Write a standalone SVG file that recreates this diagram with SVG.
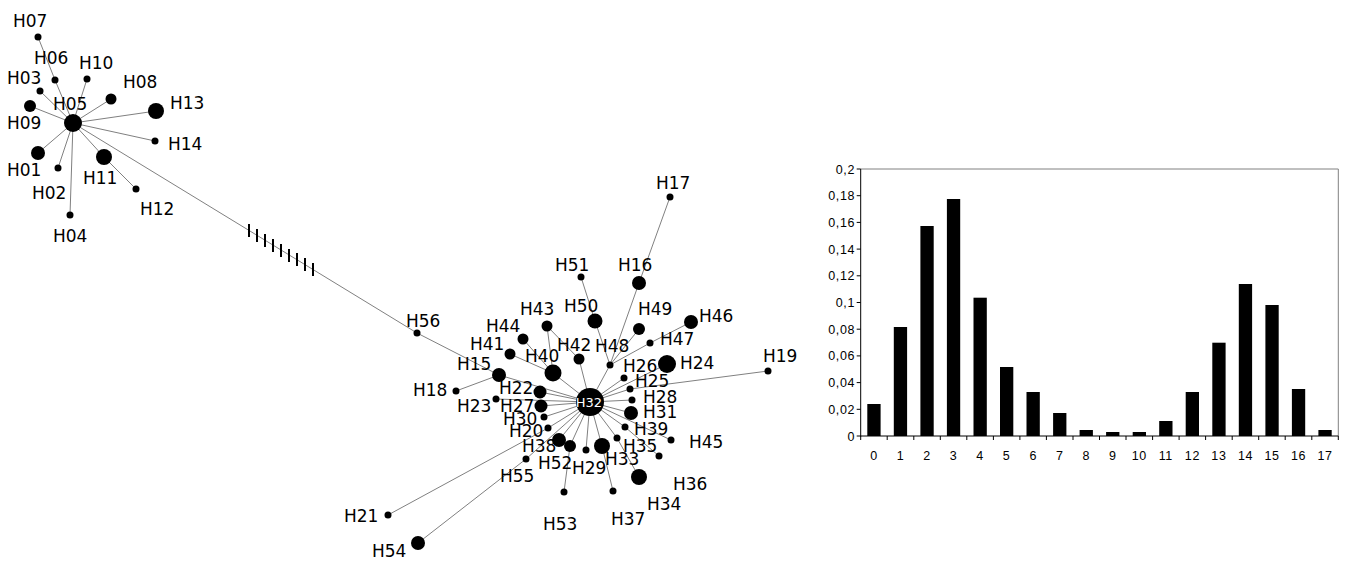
<svg xmlns="http://www.w3.org/2000/svg" width="1362" height="567" viewBox="0 0 1362 567">
<style>
.e{stroke:#808080;stroke-width:1;fill:none}
.n{fill:#000}
.l{font-family:"DejaVu Sans",Verdana,sans-serif;font-size:17px;fill:#000}
.w{font-family:"DejaVu Sans",Verdana,sans-serif;font-size:13px;fill:#fff;text-anchor:middle}
.t{stroke:#000;stroke-width:2}
.ax{stroke:#000;stroke-width:1}
.fr{stroke:#808080;stroke-width:1;fill:none}
.bar{fill:#000}
.yl{font-family:"Liberation Sans",Arial,sans-serif;font-size:12.5px;letter-spacing:0.6px;fill:#000;text-anchor:end}
.xl{font-family:"Liberation Sans",Arial,sans-serif;font-size:12.5px;letter-spacing:0.6px;fill:#000;text-anchor:middle}
</style>
<rect width="1362" height="567" fill="#fff"/>
<g id="connectors">
<line class="e" x1="73" y1="123" x2="55" y2="80"/>
<line class="e" x1="55" y1="80" x2="38" y2="37"/>
<line class="e" x1="73" y1="123" x2="87" y2="79"/>
<line class="e" x1="73" y1="123" x2="40" y2="91"/>
<line class="e" x1="73" y1="123" x2="30" y2="106"/>
<line class="e" x1="73" y1="123" x2="111" y2="99"/>
<line class="e" x1="73" y1="123" x2="156" y2="111"/>
<line class="e" x1="73" y1="123" x2="155" y2="141"/>
<line class="e" x1="73" y1="123" x2="38" y2="153"/>
<line class="e" x1="73" y1="123" x2="58" y2="168"/>
<line class="e" x1="73" y1="123" x2="104" y2="157"/>
<line class="e" x1="104" y1="157" x2="136" y2="189"/>
<line class="e" x1="73" y1="123" x2="70" y2="215"/>
<line class="e" x1="73" y1="123" x2="417" y2="333"/>
<line class="e" x1="417" y1="333" x2="499" y2="375"/>
<line class="e" x1="499" y1="375" x2="456" y2="391"/>
<line class="e" x1="499" y1="375" x2="590" y2="402"/>
<line class="e" x1="496" y1="399" x2="590" y2="402"/>
<line class="e" x1="510" y1="354" x2="553" y2="373"/>
<line class="e" x1="523" y1="339" x2="553" y2="373"/>
<line class="e" x1="547" y1="326" x2="553" y2="373"/>
<line class="e" x1="547" y1="326" x2="579" y2="359"/>
<line class="e" x1="553" y1="373" x2="590" y2="402"/>
<line class="e" x1="579" y1="359" x2="590" y2="402"/>
<line class="e" x1="581" y1="277" x2="595" y2="321"/>
<line class="e" x1="595" y1="321" x2="610" y2="365"/>
<line class="e" x1="670" y1="197" x2="639" y2="283"/>
<line class="e" x1="639" y1="283" x2="610" y2="365"/>
<line class="e" x1="639" y1="329" x2="610" y2="365"/>
<line class="e" x1="691" y1="322" x2="650" y2="343"/>
<line class="e" x1="650" y1="343" x2="610" y2="365"/>
<line class="e" x1="610" y1="365" x2="590" y2="402"/>
<line class="e" x1="667" y1="364" x2="590" y2="402"/>
<line class="e" x1="624" y1="378" x2="590" y2="402"/>
<line class="e" x1="768" y1="371" x2="630" y2="389"/>
<line class="e" x1="630" y1="389" x2="590" y2="402"/>
<line class="e" x1="632" y1="400" x2="590" y2="402"/>
<line class="e" x1="631" y1="413" x2="590" y2="402"/>
<line class="e" x1="540" y1="392" x2="590" y2="402"/>
<line class="e" x1="541" y1="406" x2="590" y2="402"/>
<line class="e" x1="544" y1="417" x2="590" y2="402"/>
<line class="e" x1="548" y1="428" x2="590" y2="402"/>
<line class="e" x1="388" y1="515" x2="548" y2="428"/>
<line class="e" x1="559" y1="440" x2="590" y2="402"/>
<line class="e" x1="570" y1="446" x2="590" y2="402"/>
<line class="e" x1="564" y1="492" x2="570" y2="446"/>
<line class="e" x1="586" y1="450" x2="590" y2="402"/>
<line class="e" x1="602" y1="446" x2="590" y2="402"/>
<line class="e" x1="613" y1="491" x2="602" y2="446"/>
<line class="e" x1="617" y1="438" x2="590" y2="402"/>
<line class="e" x1="639" y1="477" x2="617" y2="438"/>
<line class="e" x1="625" y1="427" x2="590" y2="402"/>
<line class="e" x1="659" y1="456" x2="625" y2="427"/>
<line class="e" x1="671" y1="440" x2="590" y2="402"/>
<line class="e" x1="526" y1="459" x2="590" y2="402"/>
<line class="e" x1="418" y1="543" x2="526" y2="459"/>
</g>
<g id="mutations">
<line class="t" x1="249" y1="224" x2="249" y2="237"/>
<line class="t" x1="257" y1="229" x2="257" y2="242"/>
<line class="t" x1="265" y1="234" x2="265" y2="247"/>
<line class="t" x1="273" y1="239" x2="273" y2="252"/>
<line class="t" x1="281" y1="244" x2="281" y2="257"/>
<line class="t" x1="289" y1="249" x2="289" y2="262"/>
<line class="t" x1="297" y1="253" x2="297" y2="266"/>
<line class="t" x1="305" y1="258" x2="305" y2="271"/>
<line class="t" x1="313" y1="263" x2="313" y2="276"/>
</g>
<g id="H01"><circle class="n" cx="38" cy="153" r="7"/><text class="l" x="7" y="176">H01</text></g>
<g id="H02"><circle class="n" cx="58" cy="168" r="3.5"/><text class="l" x="32" y="199">H02</text></g>
<g id="H03"><circle class="n" cx="40" cy="91" r="3.5"/><text class="l" x="7" y="84">H03</text></g>
<g id="H04"><circle class="n" cx="70" cy="215" r="3.5"/><text class="l" x="53" y="242">H04</text></g>
<g id="H05"><circle class="n" cx="73" cy="123" r="9"/><text class="l" x="53" y="110">H05</text></g>
<g id="H06"><circle class="n" cx="55" cy="80" r="3.5"/><text class="l" x="34" y="64">H06</text></g>
<g id="H07"><circle class="n" cx="38" cy="37" r="3.5"/><text class="l" x="13" y="27">H07</text></g>
<g id="H08"><circle class="n" cx="111" cy="99" r="5.5"/><text class="l" x="123" y="88">H08</text></g>
<g id="H09"><circle class="n" cx="30" cy="106" r="6"/><text class="l" x="7" y="129">H09</text></g>
<g id="H10"><circle class="n" cx="87" cy="79" r="3.5"/><text class="l" x="79" y="69">H10</text></g>
<g id="H11"><circle class="n" cx="104" cy="157" r="8"/><text class="l" x="83" y="184">H11</text></g>
<g id="H12"><circle class="n" cx="136" cy="189" r="3.5"/><text class="l" x="140" y="215">H12</text></g>
<g id="H13"><circle class="n" cx="156" cy="111" r="8"/><text class="l" x="170" y="109">H13</text></g>
<g id="H14"><circle class="n" cx="155" cy="141" r="3.5"/><text class="l" x="168" y="150">H14</text></g>
<g id="H56"><circle class="n" cx="417" cy="333" r="3.5"/><text class="l" x="406" y="327">H56</text></g>
<g id="H15"><circle class="n" cx="499" cy="375" r="7"/><text class="l" x="457" y="370">H15</text></g>
<g id="H16"><circle class="n" cx="639" cy="283" r="7"/><text class="l" x="618" y="271">H16</text></g>
<g id="H17"><circle class="n" cx="670" cy="197" r="3.5"/><text class="l" x="656" y="189">H17</text></g>
<g id="H18"><circle class="n" cx="456" cy="391" r="3.5"/><text class="l" x="413" y="396">H18</text></g>
<g id="H19"><circle class="n" cx="768" cy="371" r="3.5"/><text class="l" x="763" y="362">H19</text></g>
<g id="H20"><circle class="n" cx="548" cy="428" r="3.5"/><text class="l" x="509" y="437">H20</text></g>
<g id="H21"><circle class="n" cx="388" cy="515" r="3.5"/><text class="l" x="344" y="522">H21</text></g>
<g id="H22"><circle class="n" cx="540" cy="392" r="6.5"/><text class="l" x="499" y="394">H22</text></g>
<g id="H23"><circle class="n" cx="496" cy="399" r="3.5"/><text class="l" x="457" y="412">H23</text></g>
<g id="H24"><circle class="n" cx="667" cy="364" r="9"/><text class="l" x="680" y="369">H24</text></g>
<g id="H25"><circle class="n" cx="630" cy="389" r="3.5"/><text class="l" x="635" y="387">H25</text></g>
<g id="H26"><circle class="n" cx="624" cy="378" r="3.5"/><text class="l" x="623" y="372">H26</text></g>
<g id="H27"><circle class="n" cx="541" cy="406" r="6.5"/><text class="l" x="500" y="412">H27</text></g>
<g id="H28"><circle class="n" cx="632" cy="400" r="3.5"/><text class="l" x="643" y="403">H28</text></g>
<g id="H29"><circle class="n" cx="586" cy="450" r="3.5"/><text class="l" x="572" y="474">H29</text></g>
<g id="H30"><circle class="n" cx="544" cy="417" r="3.5"/><text class="l" x="503" y="425">H30</text></g>
<g id="H31"><circle class="n" cx="631" cy="413" r="7"/><text class="l" x="643" y="418">H31</text></g>
<g id="H33"><circle class="n" cx="602" cy="446" r="8"/><text class="l" x="605" y="465">H33</text></g>
<g id="H34"><circle class="n" cx="659" cy="456" r="3.5"/><text class="l" x="647" y="510">H34</text></g>
<g id="H35"><circle class="n" cx="617" cy="438" r="3.5"/><text class="l" x="623" y="452">H35</text></g>
<g id="H36"><circle class="n" cx="639" cy="477" r="8"/><text class="l" x="673" y="490">H36</text></g>
<g id="H37"><circle class="n" cx="613" cy="491" r="3.5"/><text class="l" x="611" y="525">H37</text></g>
<g id="H38"><circle class="n" cx="559" cy="440" r="7"/><text class="l" x="522" y="452">H38</text></g>
<g id="H39"><circle class="n" cx="625" cy="427" r="3.5"/><text class="l" x="634" y="435">H39</text></g>
<g id="H40"><circle class="n" cx="553" cy="373" r="8.5"/><text class="l" x="525" y="362">H40</text></g>
<g id="H41"><circle class="n" cx="510" cy="354" r="5.5"/><text class="l" x="470" y="350">H41</text></g>
<g id="H42"><circle class="n" cx="579" cy="359" r="5.5"/><text class="l" x="557" y="351">H42</text></g>
<g id="H43"><circle class="n" cx="547" cy="326" r="5.5"/><text class="l" x="520" y="315">H43</text></g>
<g id="H44"><circle class="n" cx="523" cy="339" r="5.5"/><text class="l" x="486" y="332">H44</text></g>
<g id="H45"><circle class="n" cx="671" cy="440" r="3.5"/><text class="l" x="689" y="448">H45</text></g>
<g id="H46"><circle class="n" cx="691" cy="322" r="7"/><text class="l" x="699" y="322">H46</text></g>
<g id="H47"><circle class="n" cx="650" cy="343" r="3.5"/><text class="l" x="660" y="345">H47</text></g>
<g id="H48"><circle class="n" cx="610" cy="365" r="3.5"/><text class="l" x="595" y="352">H48</text></g>
<g id="H49"><circle class="n" cx="639" cy="329" r="6"/><text class="l" x="638" y="315">H49</text></g>
<g id="H50"><circle class="n" cx="595" cy="321" r="7.5"/><text class="l" x="564" y="312">H50</text></g>
<g id="H51"><circle class="n" cx="581" cy="277" r="3.5"/><text class="l" x="555" y="271">H51</text></g>
<g id="H52"><circle class="n" cx="570" cy="446" r="6"/><text class="l" x="538" y="469">H52</text></g>
<g id="H53"><circle class="n" cx="564" cy="492" r="3.5"/><text class="l" x="543" y="530">H53</text></g>
<g id="H54"><circle class="n" cx="418" cy="543" r="7"/><text class="l" x="372" y="557">H54</text></g>
<g id="H55"><circle class="n" cx="526" cy="459" r="3.5"/><text class="l" x="500" y="482">H55</text></g>
<g id="H32"><circle class="n" cx="590" cy="402" r="14"/><text class="w" x="589" y="407">H32</text></g>
<g id="chart">
<line class="fr" x1="860.7" y1="169" x2="1338.3" y2="169"/>
<line class="fr" x1="1338.3" y1="169" x2="1338.3" y2="436"/>
<g id="bars">
<rect class="bar" x="867.3" y="404" width="13.3" height="32"/>
<rect class="bar" x="893.8" y="327" width="13.3" height="109"/>
<rect class="bar" x="920.4" y="226" width="13.3" height="210"/>
<rect class="bar" x="946.9" y="199" width="13.3" height="237"/>
<rect class="bar" x="973.5" y="297.7" width="13.3" height="138.3"/>
<rect class="bar" x="1000" y="367" width="13.3" height="69"/>
<rect class="bar" x="1026.5" y="392" width="13.3" height="44"/>
<rect class="bar" x="1053.1" y="413" width="13.3" height="23"/>
<rect class="bar" x="1079.6" y="430" width="13.3" height="6"/>
<rect class="bar" x="1106.1" y="432" width="13.3" height="4"/>
<rect class="bar" x="1132.7" y="432" width="13.3" height="4"/>
<rect class="bar" x="1159.2" y="421" width="13.3" height="15"/>
<rect class="bar" x="1185.7" y="392" width="13.3" height="44"/>
<rect class="bar" x="1212.3" y="342.7" width="13.3" height="93.3"/>
<rect class="bar" x="1238.8" y="284" width="13.3" height="152"/>
<rect class="bar" x="1265.4" y="305" width="13.3" height="131"/>
<rect class="bar" x="1291.9" y="389" width="13.3" height="47"/>
<rect class="bar" x="1318.4" y="430" width="13.3" height="6"/>
</g>
<line class="ax" x1="860.7" y1="169" x2="860.7" y2="436.5"/>
<line class="ax" x1="856.7" y1="436" x2="1338.3" y2="436"/>
<path class="ax" d="M856.7 169H860.7M856.7 195.7H860.7M856.7 222.4H860.7M856.7 249.1H860.7M856.7 275.8H860.7M856.7 302.5H860.7M856.7 329.2H860.7M856.7 355.9H860.7M856.7 382.6H860.7M856.7 409.3H860.7"/>
<path class="ax" d="M860.7 436V440M887.2 436V440M913.8 436V440M940.3 436V440M966.8 436V440M993.4 436V440M1019.9 436V440M1046.4 436V440M1073 436V440M1099.5 436V440M1126 436V440M1152.6 436V440M1179.1 436V440M1205.6 436V440M1232.2 436V440M1258.7 436V440M1285.2 436V440M1311.8 436V440M1338.3 436V440"/>
<text class="yl" x="855" y="173.5">0,2</text>
<text class="yl" x="855" y="200.2">0,18</text>
<text class="yl" x="855" y="226.9">0,16</text>
<text class="yl" x="855" y="253.6">0,14</text>
<text class="yl" x="855" y="280.3">0,12</text>
<text class="yl" x="855" y="307">0,1</text>
<text class="yl" x="855" y="333.7">0,08</text>
<text class="yl" x="855" y="360.4">0,06</text>
<text class="yl" x="855" y="387.1">0,04</text>
<text class="yl" x="855" y="413.8">0,02</text>
<text class="yl" x="855" y="440.5">0</text>
<text class="xl" x="874" y="460">0</text>
<text class="xl" x="900.5" y="460">1</text>
<text class="xl" x="927" y="460">2</text>
<text class="xl" x="953.6" y="460">3</text>
<text class="xl" x="980.1" y="460">4</text>
<text class="xl" x="1006.6" y="460">5</text>
<text class="xl" x="1033.2" y="460">6</text>
<text class="xl" x="1059.7" y="460">7</text>
<text class="xl" x="1086.2" y="460">8</text>
<text class="xl" x="1112.8" y="460">9</text>
<text class="xl" x="1139.3" y="460">10</text>
<text class="xl" x="1165.8" y="460">11</text>
<text class="xl" x="1192.4" y="460">12</text>
<text class="xl" x="1218.9" y="460">13</text>
<text class="xl" x="1245.5" y="460">14</text>
<text class="xl" x="1272" y="460">15</text>
<text class="xl" x="1298.5" y="460">16</text>
<text class="xl" x="1325.1" y="460">17</text>
</g>
</svg>
